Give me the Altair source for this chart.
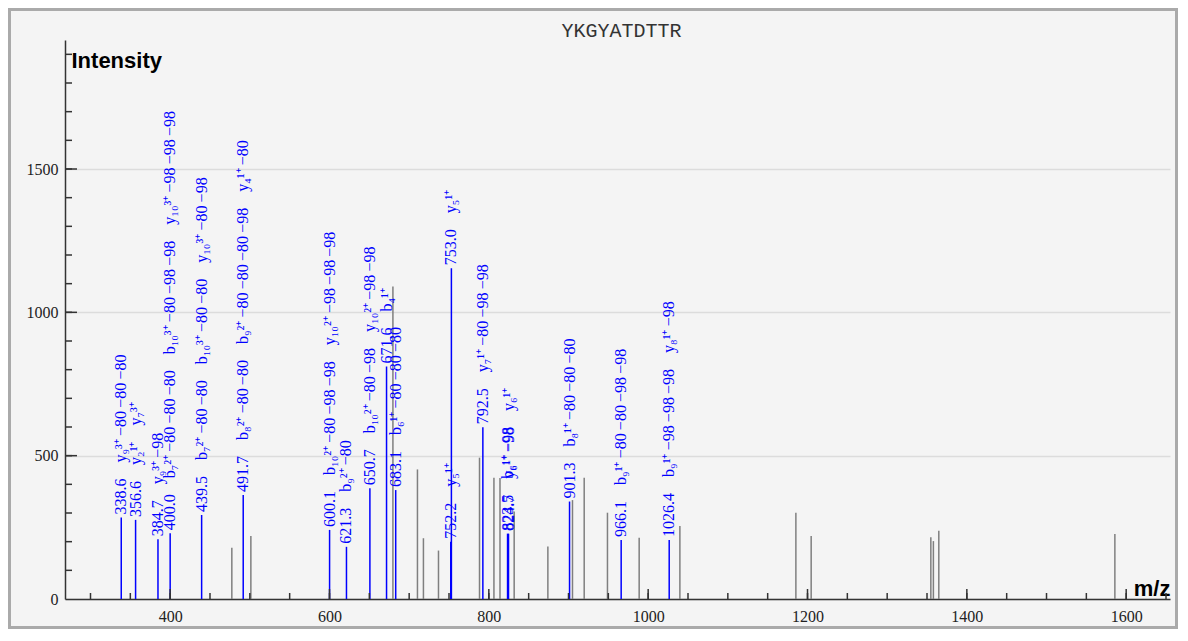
import altair as alt
import pandas as pd

# ---------------- data ----------------
blue_mz = [338.6, 356.6, 384.7, 400.0, 439.5, 491.7, 600.1, 621.3, 650.7, 671.6,
           683.1, 752.2, 753.0, 792.5, 823.5, 824.7, 901.3, 966.1, 1026.4]
blue_int = [284, 276, 208, 229, 293, 363, 241, 182, 386, 811,
            380, 200, 1154, 599, 228, 228, 340, 206, 206]
blue_ann = [
    ["y₉³⁺−80−80−80"],
    ["y₂¹⁺", "y₇³⁺"],
    ["y₉³⁺−98"],
    ["b₇²⁺−80−80−80", "b₁₀³⁺−80−98−98", "y₁₀³⁺−98−98−98"],
    ["b₇²⁺−80−80", "b₁₀³⁺−80−80", "y₁₀³⁺−80−98"],
    ["b₈²⁺−80−80", "b₉²⁺−80−80−80−98", "y₄¹⁺−80"],
    ["b₁₀²⁺−80−98−98", "y₁₀²⁺−98−98−98"],
    ["b₉²⁺−80"],
    ["b₁₀²⁺−80−98", "y₁₀²⁺−98−98"],
    ["b₄¹⁺"],
    ["b₆¹⁺−80−80−80"],
    ["y₅¹⁺"],
    ["y₅¹⁺"],
    ["y₇¹⁺−80−98−98"],
    ["b₆¹⁺−98"],
    ["y₆¹⁺−98", "y₆¹⁺"],
    ["b₈¹⁺−80−80−80"],
    ["b₉¹⁺−80−80−98−98"],
    ["b₉¹⁺−98−98−98", "y₈¹⁺−98"],
]

grey_mz = [477.4, 501.3, 679.6, 710.4, 717.9, 736.8, 788.3, 806.4, 814.0, 831.8,
           874.1, 905.0, 919.7, 948.9, 988.7, 1039.8, 1185.4, 1204.6, 1354.8,
           1358.0, 1364.8, 1585.8]
grey_int = [179, 220, 1090, 452, 212, 169, 493, 423, 422, 305,
            183, 345, 423, 301, 214, 255, 301, 220, 215,
            202, 238, 227]

x_ticks_major = [400, 600, 800, 1000, 1200, 1400, 1600]
y_ticks_major = [0, 500, 1000, 1500]
title_text = "YKGYATDTTR"

# ---------------- layout ----------------
W, H = 1105, 559
PAD = {"left": 57, "top": 32, "right": 8, "bottom": 30}
GAP = "\u00a0" * 4


def fmt(s):
    return s.replace("−", "\u2009−")


blue_df = pd.DataFrame({
    "mz": blue_mz,
    "inten": blue_int,
    "label": [f"{m:.1f}" + GAP + GAP.join(fmt(t) for t in a)
              for m, a in zip(blue_mz, blue_ann)],
})
grey_df = pd.DataFrame({"mz": grey_mz, "inten": grey_int})

xscale = alt.Scale(domain=[268, 1655], nice=False, zero=False)
yscale = alt.Scale(domain=[0, 1950], nice=False)

x_axis = alt.Axis(
    values=x_ticks_major, ticks=False, grid=False, format="d",
    domainColor="#333333", domainWidth=1.5,
    labelFont="Liberation Serif", labelFontSize=16, labelColor="#222222",
    labelPadding=9,
    title="m/z", titleFont="Liberation Sans", titleFontSize=22, titleFontWeight="bold",
    titleColor="#000000", titleX=W, titleY=-4, titleAlign="right",
    titleBaseline="alphabetic",
)
y_axis = alt.Axis(
    values=y_ticks_major, ticks=False, grid=True, format="d",
    gridColor="#dcdcdc", gridWidth=1.5,
    domainColor="#333333", domainWidth=1.5,
    labelFont="Liberation Serif", labelFontSize=16, labelColor="#222222",
    labelPadding=7,
    title="Intensity", titleFont="Liberation Sans", titleFontSize=22,
    titleFontWeight="bold", titleColor="#000000", titleAngle=0,
    titleX=6, titleY=27, titleAlign="left", titleBaseline="alphabetic",
)


def X(field):
    return alt.X(field, scale=xscale, axis=x_axis)


def Y(field):
    return alt.Y(field, scale=yscale, axis=y_axis)


grey_layer = alt.Chart(grey_df).mark_rule(color="#7f7f7f", strokeWidth=1.5).encode(
    x=X("mz:Q"), y=Y("inten:Q"), y2=alt.datum(0),
)

blue_layer = alt.Chart(blue_df).mark_rule(color="#0000ff", strokeWidth=1.5).encode(
    x=X("mz:Q"), y=Y("inten:Q"), y2=alt.datum(0),
)

text_layer = alt.Chart(blue_df).mark_text(
    angle=270, align="left", baseline="middle", dx=3,
    font="Liberation Serif", fontSize=16, color="#0000ff",
).encode(
    x=X("mz:Q"), y=Y("inten:Q"), text="label:N",
)

# inward axis ticks
x_minor = alt.Chart(alt.sequence(300, 1651, 50, as_="v")).mark_rule(
    color="#333333", strokeWidth=1.5).encode(
    x=X("v:Q"), y=alt.value(H), y2=alt.value(H - 6),
)
x_major = alt.Chart(alt.sequence(400, 1601, 200, as_="v")).mark_rule(
    color="#333333", strokeWidth=1.5).encode(
    x=X("v:Q"), y=alt.value(H), y2=alt.value(H - 10),
)
y_minor = alt.Chart(alt.sequence(100, 1901, 100, as_="v")).mark_rule(
    color="#333333", strokeWidth=1.5).encode(
    y=Y("v:Q"), x=alt.value(0), x2=alt.value(7),
)
y_major = alt.Chart(alt.sequence(500, 1501, 500, as_="v")).mark_rule(
    color="#333333", strokeWidth=1.5).encode(
    y=Y("v:Q"), x=alt.value(0), x2=alt.value(12),
)

one = pd.DataFrame({"t": [title_text]})
frame = alt.Chart(one).mark_rect(
    filled=False, stroke="#aaaaaa", strokeWidth=3).encode(
    x=alt.value(-PAD["left"] + 1.5), x2=alt.value(W + PAD["right"] - 1.5),
    y=alt.value(-PAD["top"] + 1.5), y2=alt.value(H + PAD["bottom"] - 1.5),
)
title_layer = alt.Chart(one).mark_text(
    font="Liberation Mono", fontSize=20, color="#333333",
    align="center", baseline="alphabetic",
).encode(
    x=alt.value(W / 2 + 4), y=alt.value(-3), text="t:N",
)

chart = alt.layer(
    frame, grey_layer, blue_layer, x_minor, x_major, y_minor, y_major,
    text_layer, title_layer,
).properties(
    width=W, height=H,
    autosize=alt.AutoSizeParams(type="none"),
    padding=PAD,
    background="#f4f4f4",
).configure_view(stroke=None)

chart.save("out.html", embed_options={"renderer": "svg", "actions": False})
